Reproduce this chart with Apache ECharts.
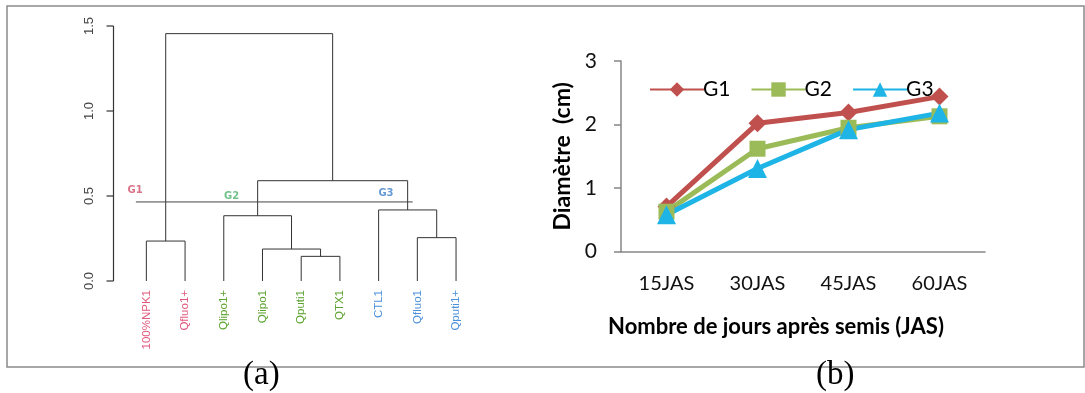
<!DOCTYPE html>
<html>
<head>
<meta charset="utf-8">
<script src="https://cdn.jsdelivr.net/npm/echarts@6/dist/echarts.min.js"></script>
<style>html,body{margin:0;padding:0;background:#fff}#c{width:1085px;height:393px}</style>
</head>
<body>
<div id="c"></div>
<script>
// ---------- Panel (a): dendrogram data ----------
var leaves = ['100%NPK1','Qfluo1+','Qlipo1+','Qlipo1','Qputi1','QTX1','CTL1','Qfluo1','Qputi1+'];
var leafGroup = [1,1,2,2,2,2,3,3,3];
// R hclust style merges: negative = leaf (1-based), positive = earlier merge row (1-based)
var mergeLeft  = [-5, -4, -1, -8, -3, -7, 5, 3];
var mergeRight = [-6,  1, -2, -9,  2,  4, 6, 7];
var mergeHeight = [0.145, 0.188, 0.235, 0.255, 0.384, 0.418, 0.59, 1.455];
var heightTicks = [0, 0.5, 1.0, 1.5];
var cutHeight = 0.465;
var cutSpan = [-0.27, 6.88];           // in leaf-index units
var groupNames = ['G1','G2','G3'];
var groupLabelX = [-0.29, 2.2, 6.19];  // in leaf-index units
var groupLabelY = [0.53, 0.496, 0.516];

// ---------- Panel (b): line chart data ----------
var days = ['15JAS','30JAS','45JAS','60JAS'];
var g1 = [0.71, 2.02, 2.19, 2.44];
var g2 = [0.63, 1.62, 1.95, 2.13];
var g3 = [0.58, 1.31, 1.92, 2.18];
var diamTicks = [0, 1, 2, 3];

var groupColors = {1:'#E0567C', 2:'#5AA22E', 3:'#4A90DA'};
var groupLabelColors = ['#D0506A','#4DB36A','#3D7FC8'];

// Build dendrogram segments from merges
var nodeX = [], nodeH = [];
function childPos(v){
  if (v < 0) return [(-v) - 1, 0];
  return [nodeX[v-1], nodeH[v-1]];
}
var segs = [];
for (var i = 0; i < mergeHeight.length; i++) {
  var L = childPos(mergeLeft[i]), R = childPos(mergeRight[i]);
  nodeX.push((L[0] + R[0]) / 2);
  nodeH.push(mergeHeight[i]);
  segs.push([L[0], L[1], R[0], R[1], mergeHeight[i]]);
}

// layout of panel (a)
var leafLeft = 127, leafWidth = 348.4;           // area spanned by the leaves
var leafStep = leafWidth / leaves.length;        // px per leaf
var axisGapPx = 14, tickLenPx = 7;
var plotLeft = leafLeft - axisGapPx - tickLenPx; // grid extended to hold axis + ticks
var xMin = -0.5 - (axisGapPx + tickLenPx) / leafStep;
var axisXVal = -0.5 - axisGapPx / leafStep;

var chart = echarts.init(document.getElementById('c'), null, {renderer:'canvas'});
var sansA = '"Liberation Sans", Arial, sans-serif';
var sansB = 'Lato, "Open Sans", sans-serif';

var option = {
  animation: false,
  backgroundColor: '#fff',
  graphic: [
    {type:'rect', shape:{x:7, y:6, width:1077, height:361}, style:{fill:'none', stroke:'#8a8a8a', lineWidth:1.5}, z:0},
    {type:'text', left: 243, top: 359, style:{text:'(a)', font:'33px "Liberation Serif", "Times New Roman", serif', fill:'#000'}, z:10},
    {type:'text', left: 816, top: 359, style:{text:'(b)', font:'33px "Liberation Serif", "Times New Roman", serif', fill:'#000'}, z:10}
  ],
  legend: {
    data: ['G1','G2','G3'],
    left: 644, top: 74,
    itemWidth: 54, itemHeight: 18, itemGap: 20,
    textStyle: {fontSize: 21, fontFamily: sansB, color:'#000', padding:[0,0,0,-6]}
  },
  grid: [
    {left: plotLeft, top: 26, width: leafLeft + leafWidth - plotLeft, height: 255},
    {left: 621, top: 61, width: 364, height: 190.7},
    {left: leafLeft - axisGapPx, top: 26, width: 2, height: 255},
    {left: leafLeft, top: 26, width: leafWidth, height: 255}
  ],
  xAxis: [
    {gridIndex:0, type:'value', min:xMin, max: leaves.length - 0.5, show:false},
    {gridIndex:3, type:'category', data: leaves, position:'bottom', boundaryGap:true,
     axisLine:{show:false}, axisTick:{show:false}, splitLine:{show:false},
     axisLabel:{rotate:90, margin:9, fontSize:11.5, fontFamily: sansA, interval:0,
       color: function(v, idx){ return groupColors[leafGroup[leaves.indexOf(v)]]; }}},
    {gridIndex:1, type:'category', data: days, boundaryGap:true,
     axisLine:{lineStyle:{color:'#868686', width:1.5}}, axisTick:{show:false},
     axisLabel:{fontSize:20, fontFamily:sansB, color:'#111', margin:22},
     name:'Nombre de jours après semis (JAS)', nameLocation:'middle', nameGap:64,
     nameTextStyle:{fontSize:22, fontWeight:'bold', fontFamily:sansB, color:'#000', padding:[0,54,0,0]}},
    {gridIndex:2, type:'value', min:0, max:1, show:false}
  ],
  yAxis: [
    {gridIndex:0, type:'value', min:heightTicks[0], max:heightTicks[heightTicks.length-1], interval:0.5, show:false},
    {gridIndex:1, type:'value', min:0, max:3, interval:1,
     axisLine:{show:true, lineStyle:{color:'#868686', width:1.5}},
     axisTick:{show:true, length:7, lineStyle:{color:'#868686', width:1.5}},
     splitLine:{show:false},
     axisLabel:{fontSize:21, fontFamily:sansB, color:'#111', margin:24},
     name:'Diamètre  (cm)', nameLocation:'middle', nameGap:47,
     nameTextStyle:{fontSize:23, fontWeight:'bold', fontFamily:sansB, color:'#000'}},
    {gridIndex:2, type:'value', min:heightTicks[0], max:heightTicks[heightTicks.length-1], interval:0.5, position:'left',
     axisLine:{show:false, onZero:false}, axisTick:{show:false}, splitLine:{show:false},
     axisLabel:{rotate:90, margin:17, fontSize:13, fontFamily:sansA, color:'#444',
       formatter:function(v){ return v.toFixed(1); }}},
    {gridIndex:3, type:'value', min:0, max:1, show:false}
  ],
  series: [
    {
      // dendrogram height axis: line and ticks placed through the height scale
      type:'custom', xAxisIndex:0, yAxisIndex:0, silent:true, z:5, clip:false,
      data: heightTicks.map(function(t){ return [axisXVal, t]; }),
      encode: {x:0, y:1},
      renderItem: function(params, api){
        var p = api.coord([api.value(0), api.value(1)]);
        var x = Math.round(p[0]) + 0.5;
        var children = [{type:'line', shape:{x1:x - tickLenPx, y1:p[1], x2:x, y2:p[1]},
                         style:{stroke:'#333', lineWidth:1.2}}];
        if (params.dataIndex === 0) {
          var top = api.coord([api.value(0), heightTicks[heightTicks.length-1]])[1];
          var bot = api.coord([api.value(0), heightTicks[0]])[1];
          children.push({type:'line', shape:{x1:x, y1:top, x2:x, y2:bot},
                         style:{stroke:'#333', lineWidth:1.2}});
        }
        return {type:'group', children: children};
      }
    },
    {
      type:'custom', xAxisIndex:0, yAxisIndex:0, silent:true,
      data: segs,
      encode: {x:[0,2], y:[1,3,4]},
      renderItem: function(params, api){
        var a = api.coord([api.value(0), api.value(1)]);
        var b = api.coord([api.value(0), api.value(4)]);
        var c = api.coord([api.value(2), api.value(4)]);
        var d = api.coord([api.value(2), api.value(3)]);
        return {type:'polyline', shape:{points:[a,b,c,d]}, style:{stroke:'#333', lineWidth:1, fill:null}};
      }
    },
    {
      type:'line', xAxisIndex:0, yAxisIndex:0, silent:true, symbol:'none',
      data: [[cutSpan[0], cutHeight], [cutSpan[1], cutHeight]],
      lineStyle:{color:'#444', width:1}
    },
    {
      type:'scatter', xAxisIndex:0, yAxisIndex:0, silent:true, symbolSize:0,
      data: groupNames.map(function(n, i){
        return {name:n, value:[groupLabelX[i], groupLabelY[i]],
                label:{color: groupLabelColors[i]}};
      }),
      label:{show:true, position:'inside', formatter:'{b}', fontSize:10, fontWeight:'bold', fontFamily:'"DejaVu Sans", sans-serif'}
    },
    {
      name:'G1', type:'line', xAxisIndex:2, yAxisIndex:1, data:g1,
      symbol:'diamond', symbolSize:18, color:'#C0504D',
      lineStyle:{width:5, color:'#C0504D'}, itemStyle:{color:'#C0504D'}
    },
    {
      name:'G2', type:'line', xAxisIndex:2, yAxisIndex:1, data:g2,
      symbol:'rect', symbolSize:16, color:'#9BBB59',
      lineStyle:{width:5, color:'#9BBB59'}, itemStyle:{color:'#9BBB59'}
    },
    {
      name:'G3', type:'line', xAxisIndex:2, yAxisIndex:1, data:g3,
      symbol:'triangle', symbolSize:19, color:'#1FB4E6',
      lineStyle:{width:5, color:'#1FB4E6'}, itemStyle:{color:'#1FB4E6'}
    }
  ]
};
chart.setOption(option);
</script>
</body>
</html>
